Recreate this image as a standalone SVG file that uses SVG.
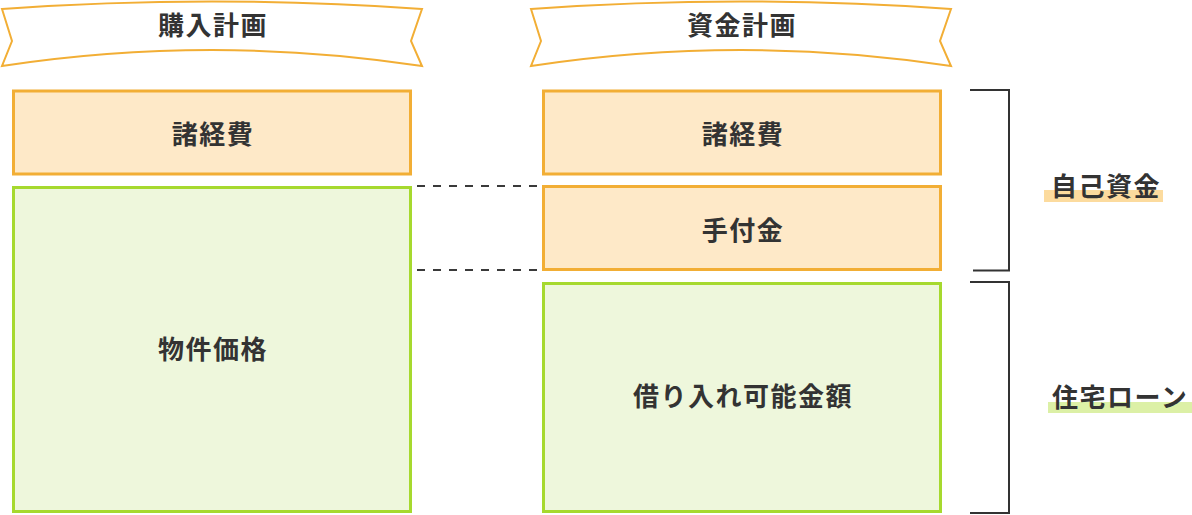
<svg xmlns="http://www.w3.org/2000/svg" width="1192" height="515" viewBox="0 0 1192 515">
<style>
.banner{fill:#fff;stroke:#F2AE35;stroke-width:2;stroke-linejoin:miter}
.ob{fill:#FEE9C8;stroke:#F2AE35;stroke-width:3}
.gb{fill:#EEF7DC;stroke:#A6D92E;stroke-width:3}
.t{font-family:"Noto Sans CJK JP","Noto Sans",sans-serif;font-size:26px;font-weight:700;fill:#333;letter-spacing:1.5px}
.c{text-anchor:middle}
.dash{stroke:#3a3a3a;stroke-width:2;stroke-dasharray:8 8;fill:none}
.br{stroke:#333;stroke-width:2;fill:none}
</style>
<rect width="1192" height="515" fill="#fff"/>
<g id="banner-purchase">
<path class="banner" d="M2,9 Q212,-6 422,9 L411,41 L422,66 Q212,34 2,66 L12,41 Z"/>
<text class="t c" x="213" y="35">購入計画</text>
</g>
<g id="banner-funding">
<path class="banner" d="M531,9 Q741,-6 951,9 L940,41 L951,66 Q741,34 531,66 L541,41 Z"/>
<text class="t c" x="742" y="35">資金計画</text>
</g>
<g id="left-expenses">
<rect class="ob" x="13.5" y="91" width="397" height="83"/>
<text class="t c" x="213" y="144">諸経費</text>
</g>
<g id="left-price">
<rect class="gb" x="13.5" y="187.5" width="397" height="324"/>
<text class="t c" x="213" y="359">物件価格</text>
</g>
<g id="right-expenses">
<rect class="ob" x="543.5" y="91" width="397" height="83"/>
<text class="t c" x="743" y="144">諸経費</text>
</g>
<g id="right-deposit">
<rect class="ob" x="543.5" y="186.5" width="397" height="83"/>
<text class="t c" x="743" y="240">手付金</text>
</g>
<g id="right-loan-amount">
<rect class="gb" x="543.5" y="283.5" width="397" height="228"/>
<text class="t c" x="743" y="406">借り入れ可能金額</text>
</g>
<g id="connectors">
<line class="dash" x1="417" y1="186" x2="537" y2="186"/>
<line class="dash" x1="417" y1="270" x2="537" y2="270"/>
<polyline class="br" points="970,90 1009,90 1009,270.5 973,270.5"/>
<polyline class="br" points="970,282 1009,282 1009,513 970,513"/>
</g>
<g id="label-own-funds">
<rect x="1044" y="190" width="119" height="12" fill="#FCDB9E"/>
<text class="t" x="1051" y="195.5">自己資金</text>
</g>
<g id="label-mortgage">
<rect x="1048" y="402" width="144" height="11" fill="#DCF0A6"/>
<text class="t" x="1052" y="406.5">住宅ローン</text>
</g>
</svg>
